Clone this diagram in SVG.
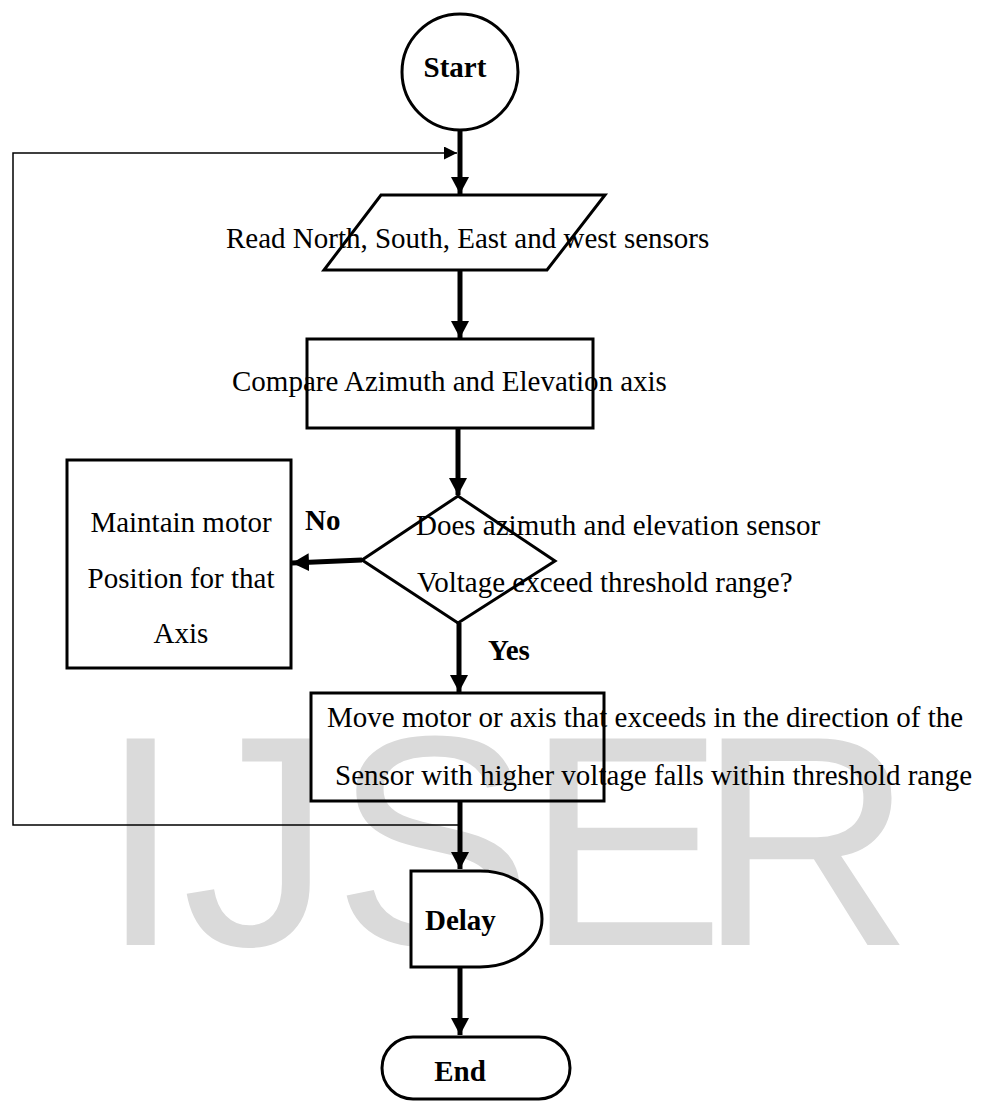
<svg xmlns="http://www.w3.org/2000/svg" width="981" height="1103" viewBox="0 0 981 1103">
<defs>
<style>
.shape{fill:none;stroke:#000;stroke-width:3}
.filled{fill:#fff;stroke:#000;stroke-width:3}
.txt{font-family:"Liberation Serif","Times New Roman",serif;font-size:29px;fill:#000}
.bold{font-weight:bold}
.thick{fill:none;stroke:#000;stroke-width:5}
.thin{fill:none;stroke:#000;stroke-width:1.5}
.wm{font-family:"Liberation Sans",Arial,sans-serif;font-size:300px;fill:#dadada}
</style>
<marker id="ah" markerUnits="userSpaceOnUse" markerWidth="20" markerHeight="20" refX="17" refY="9" orient="auto">
<path d="M0,0 L17,9 L0,18 Z" fill="#000"/>
</marker>
<marker id="ahs" markerUnits="userSpaceOnUse" markerWidth="16" markerHeight="16" refX="13" refY="6.5" orient="auto">
<path d="M0,0 L13,6.5 L0,13 Z" fill="#000"/>
</marker>
</defs>
<rect width="981" height="1103" fill="#fff"/>
<text class="wm" x="99 182 333 525 697" y="945">IJSER</text>

<g id="connectors">
<line class="thick" x1="460" y1="131" x2="460" y2="194" marker-end="url(#ah)"/>
<polyline class="thin" points="460,825 13,825 13,153 457,153" marker-end="url(#ahs)"/>
<line class="thick" x1="460" y1="270" x2="460" y2="338" marker-end="url(#ah)"/>
<line class="thick" x1="458" y1="428" x2="458" y2="495" marker-end="url(#ah)"/>
<line class="thick" x1="362" y1="560" x2="292" y2="563" marker-end="url(#ah)"/>
<line class="thick" x1="459" y1="623" x2="459" y2="692" marker-end="url(#ah)"/>
<line class="thick" x1="460" y1="801" x2="460" y2="869" marker-end="url(#ah)"/>
<line class="thick" x1="460" y1="967" x2="460" y2="1035" marker-end="url(#ah)"/>
</g>

<g id="start">
<circle class="filled" cx="460" cy="72" r="58"/>
<text class="txt bold" x="455" y="77" text-anchor="middle">Start</text>
</g>

<g id="read">
<polygon class="shape" points="381,195 605,195 547,270 324,270"/>
<text class="txt" x="226" y="248">Read North, South, East and west sensors</text>
</g>

<g id="compare">
<rect class="shape" x="307" y="339" width="286" height="89"/>
<text class="txt" x="232" y="391">Compare Azimuth and Elevation axis</text>
</g>

<g id="decision">
<polygon class="shape" points="458,496 555,561 458,623 362,560"/>
<text class="txt" x="416" y="535">Does azimuth and elevation sensor</text>
<text class="txt" x="417" y="592">Voltage exceed threshold range?</text>
</g>

<g id="labels">
<text class="txt bold" x="305" y="530">No</text>
<text class="txt bold" x="488" y="660">Yes</text>
</g>

<g id="maintain">
<rect class="shape" x="67" y="460" width="224" height="208"/>
<text class="txt" x="181" y="532" text-anchor="middle">Maintain motor</text>
<text class="txt" x="181" y="588" text-anchor="middle">Position for that</text>
<text class="txt" x="181" y="643" text-anchor="middle">Axis</text>
</g>

<g id="move">
<rect class="shape" x="311" y="693" width="293" height="108"/>
<text class="txt" x="327" y="727">Move motor or axis that exceeds in the direction of the</text>
<text class="txt" x="335" y="785">Sensor with higher voltage falls within threshold range</text>
</g>

<g id="delay">
<path class="filled" d="M411,871 H480 A62,48 0 0 1 480,967 H411 Z"/>
<text class="txt bold" x="425" y="930">Delay</text>
</g>

<g id="end">
<rect class="filled" x="382" y="1037" width="188" height="62" rx="31" ry="31"/>
<text class="txt bold" x="460" y="1081" text-anchor="middle">End</text>
</g>
</svg>
